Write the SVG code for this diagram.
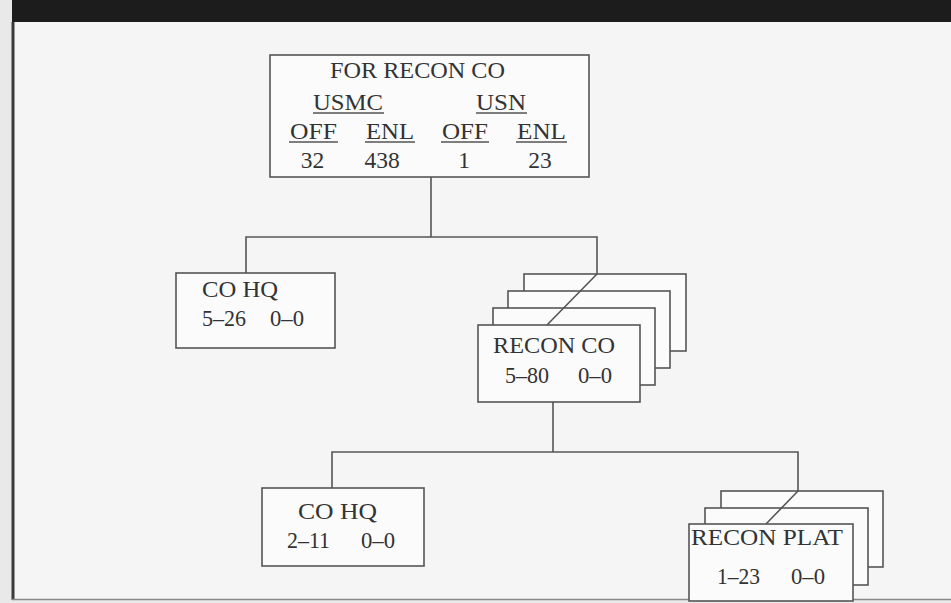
<svg xmlns="http://www.w3.org/2000/svg" width="951" height="603" viewBox="0 0 951 603">
<style>
.box{fill:#fbfbfb;stroke:#555;stroke-width:1.6}
.ln{fill:none;stroke:#555;stroke-width:1.6}
text{font-family:"Liberation Serif","Times New Roman",serif;font-size:23.5px;fill:#333}
.m{text-anchor:middle}
.ul{fill:none;stroke:#555;stroke-width:1.3}
</style>
<rect x="0" y="0" width="951" height="603" fill="#e9e9e9"/>
<rect x="13" y="22" width="938" height="578" fill="#f5f5f5"/>
<rect x="12" y="0" width="939" height="22" fill="#1c1c1c"/>
<line x1="13" y1="22" x2="13" y2="600" stroke="#3a3a3a" stroke-width="3"/>
<line x1="12" y1="599.5" x2="951" y2="599.5" stroke="#888" stroke-width="1.5"/>

<g id="node-top">
<rect class="box" x="270" y="55" width="319" height="122"/>
<text x="330" y="78" textLength="175" lengthAdjust="spacingAndGlyphs">FOR RECON CO</text>
<text x="313" y="110" textLength="70" lengthAdjust="spacingAndGlyphs">USMC</text>
<text x="476" y="110" textLength="50" lengthAdjust="spacingAndGlyphs">USN</text>
<line class="ul" x1="313" y1="113" x2="384" y2="113"/>
<line class="ul" x1="476" y1="113" x2="527" y2="113"/>
<text x="290" y="139" textLength="47" lengthAdjust="spacingAndGlyphs">OFF</text>
<text x="366" y="139" textLength="48" lengthAdjust="spacingAndGlyphs">ENL</text>
<text x="442" y="139" textLength="46" lengthAdjust="spacingAndGlyphs">OFF</text>
<text x="517" y="139" textLength="49" lengthAdjust="spacingAndGlyphs">ENL</text>
<line class="ul" x1="289" y1="142" x2="338" y2="142"/>
<line class="ul" x1="365" y1="142" x2="415" y2="142"/>
<line class="ul" x1="441" y1="142" x2="489" y2="142"/>
<line class="ul" x1="516" y1="142" x2="567" y2="142"/>
<text class="m" x="312.5" y="168">32</text>
<text class="m" x="382" y="168">438</text>
<text class="m" x="464" y="168">1</text>
<text class="m" x="540" y="168">23</text>
</g>

<g id="node-cohq1">
<rect class="box" x="176" y="273" width="159" height="75"/>
<text x="202" y="297" textLength="76" lengthAdjust="spacingAndGlyphs">CO HQ</text>
<text x="202" y="326" textLength="44" lengthAdjust="spacingAndGlyphs">5–26</text>
<text x="270" y="326" textLength="34" lengthAdjust="spacingAndGlyphs">0–0</text>
</g>

<g id="node-reconco">
<rect class="box" x="524" y="274" width="162" height="77"/>
<rect class="box" x="508" y="291" width="162" height="77"/>
<rect class="box" x="493" y="308" width="162" height="77"/>
<rect class="box" x="478" y="325" width="162" height="77"/>
<text x="493" y="353" textLength="122" lengthAdjust="spacingAndGlyphs">RECON CO</text>
<text x="505" y="383" textLength="44" lengthAdjust="spacingAndGlyphs">5–80</text>
<text x="578" y="383" textLength="34" lengthAdjust="spacingAndGlyphs">0–0</text>
</g>

<g id="node-cohq2">
<rect class="box" x="262" y="488" width="162" height="78"/>
<text x="298" y="519" textLength="79" lengthAdjust="spacingAndGlyphs">CO HQ</text>
<text x="287" y="548" textLength="43" lengthAdjust="spacingAndGlyphs">2–11</text>
<text x="361" y="548" textLength="34" lengthAdjust="spacingAndGlyphs">0–0</text>
</g>

<g id="node-reconplat">
<rect class="box" x="721" y="491" width="162" height="76"/>
<rect class="box" x="705" y="508" width="163" height="77"/>
<rect class="box" x="689" y="524" width="164" height="77"/>
<text x="691" y="545" textLength="152" lengthAdjust="spacingAndGlyphs">RECON PLAT</text>
<text x="717" y="584" textLength="43" lengthAdjust="spacingAndGlyphs">1–23</text>
<text x="791" y="584" textLength="34" lengthAdjust="spacingAndGlyphs">0–0</text>
</g>

<g id="connectors">
<path class="ln" d="M431 177 V237 M246 273 V237 H597 V274 L547 325"/>
<path class="ln" d="M553 402 V452 M332 488 V452 H798 V491 L766 524"/>
</g>
</svg>
